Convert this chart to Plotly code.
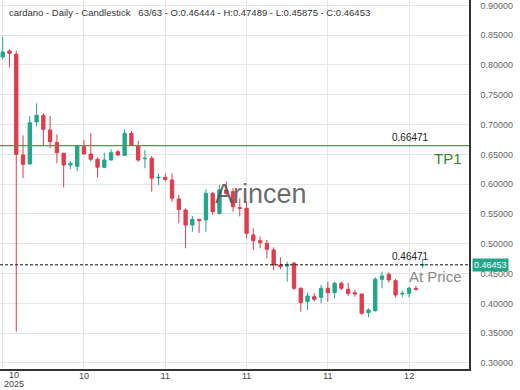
import plotly.graph_objects as go

# ---- data ----
day_index = list(range(63))
opens = [0.8134, 0.8234, 0.818, 0.649, 0.6339, 0.7044, 0.7156, 0.691, 0.670, 0.6517,
         0.6322, 0.630, 0.6628, 0.6507, 0.6418, 0.6284, 0.6406, 0.6544, 0.6484, 0.6853,
         0.664, 0.6426, 0.6435, 0.6107, 0.6115, 0.607, 0.5752, 0.5567, 0.5315, 0.541,
         0.5399, 0.5846, 0.551, 0.5903, 0.5875, 0.5604, 0.5595, 0.5148, 0.5052, 0.5007,
         0.4896, 0.4644, 0.4626, 0.4673, 0.4253, 0.4029, 0.4112, 0.4102, 0.4253, 0.418,
         0.4337, 0.4237, 0.418, 0.4158, 0.3844, 0.3878, 0.4404, 0.4488, 0.4381, 0.4158,
         0.4169, 0.4253, 0.46444]
highs = [0.847, 0.826, 0.824, 0.682, 0.7144, 0.7356, 0.719, 0.7144, 0.6836, 0.6527,
         0.639, 0.666, 0.674, 0.6853, 0.645, 0.6527, 0.6584, 0.6573, 0.692, 0.6897,
         0.6728, 0.6573, 0.6473, 0.618, 0.618, 0.618, 0.5819, 0.5595, 0.5466, 0.541,
         0.5913, 0.5875, 0.5987, 0.6045, 0.593, 0.5763, 0.5706, 0.5258, 0.5120, 0.5064,
         0.494, 0.4772, 0.470, 0.470, 0.427, 0.418, 0.417, 0.4309, 0.4364, 0.4364,
         0.4364, 0.4347, 0.4225, 0.4158, 0.3918, 0.4438, 0.4532, 0.4522, 0.4409, 0.4213,
         0.428, 0.4292, 0.47489]
lows = [0.810, 0.796, 0.3525, 0.610, 0.633, 0.6966, 0.664, 0.660, 0.635, 0.5946,
        0.625, 0.622, 0.650, 0.6378, 0.6115, 0.6267, 0.6395, 0.6473, 0.6473, 0.664,
        0.6378, 0.6267, 0.5874, 0.5985, 0.6045, 0.5706, 0.5342, 0.4924, 0.5203, 0.5181,
        0.5203, 0.548, 0.549, 0.58, 0.5539, 0.546, 0.509, 0.4896, 0.4924, 0.4757,
        0.456, 0.4572, 0.4364, 0.4225, 0.386, 0.389, 0.403, 0.4002, 0.4029, 0.4085,
        0.4225, 0.4124, 0.4112, 0.381, 0.3767, 0.386, 0.4253, 0.4347, 0.4102, 0.4102,
        0.4102, 0.4213, 0.45875]
closes = [0.8218, 0.8195, 0.650, 0.6334, 0.7032, 0.7156, 0.692, 0.6713, 0.6527, 0.6322,
          0.635, 0.664, 0.6507, 0.6418, 0.6284, 0.6406, 0.6527, 0.6490, 0.6853, 0.6658,
          0.6406, 0.6435, 0.6099, 0.6115, 0.608, 0.5763, 0.5577, 0.5315, 0.541, 0.5388,
          0.5846, 0.5539, 0.5903, 0.5846, 0.5623, 0.5595, 0.5176, 0.5052, 0.5018, 0.4908,
          0.4644, 0.4616, 0.4654, 0.4253, 0.4012, 0.4124, 0.4068, 0.4253, 0.418, 0.4337,
          0.4253, 0.4169, 0.4158, 0.3834, 0.3889, 0.4404, 0.446, 0.4393, 0.4141, 0.4169,
          0.4253, 0.4237, 0.46453]

x_tick_pos = [0, 12, 24, 36, 48, 60]
x_tick_text = ["", "10", "11", "11", "11", "12"]
first_tick_month = "10"
first_tick_year = "2025"

tp_level = 0.66471
tp_name = "TP1"
at_price_level = 0.46471
at_price_name = "At Price"
last_price = 0.46453
title_text = ("cardano - Daily - Candlestick   63/63 - O:0.46444 - H:0.47489 - "
              "L:0.45875 - C:0.46453")
watermark = "Arincen"

GREEN = "#22a68b"
RED = "#e03c4c"
FONT = "Arial, Liberation Sans, sans-serif"

fig = go.Figure(go.Candlestick(
    x=day_index, open=opens, high=highs, low=lows, close=closes,
    increasing=dict(line=dict(color=GREEN, width=1), fillcolor=GREEN),
    decreasing=dict(line=dict(color=RED, width=1), fillcolor=RED),
    whiskerwidth=0, hoverinfo="skip", showlegend=False,
))

fig.add_hline(y=tp_level, line=dict(color="#4f9a4f", width=1.2))
fig.add_hline(y=at_price_level, line=dict(color="#111111", width=1, dash="3px,2px"))

ann = []
ann.append(dict(text=title_text, xref="paper", yref="paper", x=0, y=1, xshift=7, yshift=-5,
                xanchor="left", yanchor="top", showarrow=False,
                font=dict(size=9.5, color="#333333", family=FONT)))
ann.append(dict(text=f"{tp_level:.5f}", xref="paper", yref="y", x=0.918, y=tp_level,
                xanchor="right", yanchor="bottom", yshift=1, showarrow=False,
                font=dict(size=10, color="#222222", family=FONT)))
ann.append(dict(text=tp_name, xref="paper", yref="y", x=0.99, y=tp_level,
                xanchor="right", yanchor="top", yshift=-2, showarrow=False,
                font=dict(size=15, color="#2e8b2e", family=FONT)))
ann.append(dict(text=f"{at_price_level:.5f}", xref="paper", yref="y", x=0.918, y=at_price_level,
                xanchor="right", yanchor="bottom", yshift=1, showarrow=False,
                font=dict(size=10, color="#222222", family=FONT)))
ann.append(dict(text=at_price_name, xref="paper", yref="y", x=0.99, y=at_price_level,
                xanchor="right", yanchor="top", yshift=-1, showarrow=False,
                font=dict(size=15, color="#8a8a8a", family=FONT)))
ann.append(dict(text=watermark, xref="paper", yref="paper", x=0.557, y=0.474,
                xanchor="center", yanchor="middle", showarrow=False,
                font=dict(size=27, color="rgba(80,80,80,0.85)", family=FONT)))
ann.append(dict(text=f"{last_price:.5f}", xref="paper", yref="y", x=1, y=last_price,
                xanchor="left", yanchor="middle", xshift=3, showarrow=False,
                bgcolor=GREEN, borderpad=1,
                font=dict(size=9, color="white", family=FONT)))
ann.append(dict(text=first_tick_month, xref="paper", yref="paper", x=0, y=0,
                xshift=14, yshift=-6, xanchor="center", yanchor="middle", showarrow=False,
                font=dict(size=9, color="#444444", family=FONT)))
ann.append(dict(text=first_tick_year, xref="paper", yref="paper", x=0, y=0,
                xshift=14, yshift=-15, xanchor="center", yanchor="middle", showarrow=False,
                font=dict(size=9, color="#444444", family=FONT)))

fig.update_layout(
    width=520, height=390,
    margin=dict(l=0, r=51, t=0, b=21),
    paper_bgcolor="white", plot_bgcolor="white",
    annotations=ann,
    font=dict(family=FONT, size=9, color="#555555"),
    xaxis=dict(range=[-0.4, 68.84], rangeslider=dict(visible=False),
               tickmode="array", tickvals=x_tick_pos, ticktext=x_tick_text,
               showgrid=True, gridcolor="#e6e6e6", gridwidth=1,
               showline=True, linecolor="#333333", linewidth=1.5,
               ticks="", ticklabelstandoff=-3, zeroline=False, fixedrange=True,
               tickfont=dict(size=9, color="#444444")),
    yaxis=dict(range=[0.2899, 0.909], side="right", dtick=0.05, tick0=0.3,
               tickformat=".5f", showgrid=True, gridcolor="#e6e6e6", gridwidth=1,
               showline=True, linecolor="#333333", linewidth=1.5,
               ticks="", ticklabelstandoff=8, zeroline=False,
               tickfont=dict(size=9, color="#666666")),
)

fig.write_html("out.html")
